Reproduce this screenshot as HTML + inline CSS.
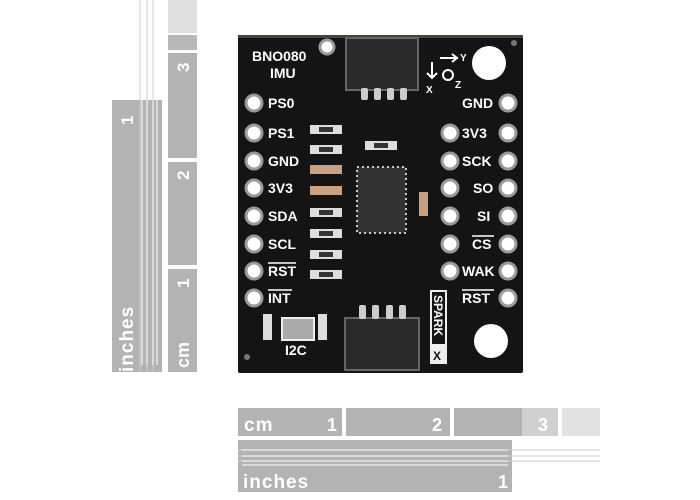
<!DOCTYPE html>
<html><head><style>
html,body{margin:0;padding:0;background:#fff;width:700px;height:500px;overflow:hidden}
svg{display:block}
text{font-family:"Liberation Sans",sans-serif;font-weight:bold}
</style></head><body>
<svg width="700" height="500" viewBox="0 0 700 500" xmlns="http://www.w3.org/2000/svg">
<!-- vertical ruler -->
<g>
<rect x="112" y="100" width="50" height="272" fill="#b3b3b3"/>
<line x1="140" y1="0" x2="140" y2="372" stroke="#ccc" stroke-width="1"/>
<line x1="147" y1="0" x2="147" y2="372" stroke="#ccc" stroke-width="1"/>
<line x1="153" y1="0" x2="153" y2="372" stroke="#ccc" stroke-width="1"/>
<line x1="142" y1="100" x2="142" y2="365" stroke="#fff" stroke-width="1"/>
<line x1="147" y1="100" x2="147" y2="365" stroke="#fff" stroke-width="1"/>
<line x1="153" y1="100" x2="153" y2="365" stroke="#fff" stroke-width="1"/>
<line x1="157" y1="100" x2="157" y2="365" stroke="#fff" stroke-width="1"/>
<text transform="translate(133,372) rotate(-90)" font-size="19" fill="#fff" letter-spacing="1">inches</text>
<text transform="translate(133,125) rotate(-90)" font-size="17" fill="#fff">1</text>
<rect x="168" y="0" width="29" height="33" fill="#e0e0e0"/>
<rect x="168" y="35" width="29" height="15" fill="#b8b8b8"/>
<rect x="168" y="53" width="29" height="105" fill="#b3b3b3"/>
<rect x="168" y="162" width="29" height="103" fill="#b3b3b3"/>
<rect x="168" y="269" width="29" height="103" fill="#b3b3b3"/>
<text transform="translate(189,72) rotate(-90)" font-size="17" fill="#fff">3</text>
<text transform="translate(189,180) rotate(-90)" font-size="17" fill="#fff">2</text>
<text transform="translate(189,288) rotate(-90)" font-size="17" fill="#fff">1</text>
<text transform="translate(189,368) rotate(-90)" font-size="18" fill="#fff">cm</text>
</g>
<!-- horizontal ruler -->
<g>
<rect x="238" y="408" width="104" height="28" fill="#b3b3b3"/>
<rect x="346" y="408" width="104" height="28" fill="#b3b3b3"/>
<rect x="454" y="408" width="68" height="28" fill="#b3b3b3"/>
<rect x="522" y="408" width="36" height="28" fill="#d0d0d0"/>
<rect x="562" y="408" width="38" height="28" fill="#e2e2e2"/>
<text x="244" y="431" font-size="19" fill="#fff" letter-spacing="1">cm</text>
<text x="327" y="431" font-size="18" fill="#fff">1</text>
<text x="432" y="431" font-size="18" fill="#fff">2</text>
<text x="538" y="431" font-size="18" fill="#fff">3</text>
<rect x="238" y="440" width="274" height="52" fill="#b3b3b3"/>
<line x1="238" y1="450" x2="600" y2="450" stroke="#ccc"/>
<line x1="238" y1="456" x2="600" y2="456" stroke="#ccc"/>
<line x1="238" y1="461" x2="600" y2="461" stroke="#ccc"/>
<line x1="242" y1="450" x2="508" y2="450" stroke="#fff"/>
<line x1="242" y1="456" x2="508" y2="456" stroke="#fff"/>
<line x1="242" y1="461" x2="508" y2="461" stroke="#fff"/>
<line x1="242" y1="465" x2="508" y2="465" stroke="#fff"/>
<text x="243" y="488" font-size="19" fill="#fff" letter-spacing="1">inches</text>
<text x="498" y="488" font-size="18" fill="#fff">1</text>
</g>
<!-- board -->
<rect x="238" y="35" width="285" height="338" fill="#141414" rx="2"/>
<rect x="238" y="35" width="285" height="3" fill="#4a4535"/>
<circle cx="489" cy="63" r="17" fill="#fff"/>
<circle cx="491" cy="341" r="17" fill="#fff"/>
<circle cx="514" cy="43" r="3" fill="#777"/>
<circle cx="247" cy="357" r="3" fill="#777"/>
<!-- connectors -->
<rect x="346" y="38" width="72" height="52" fill="#2a2a2a" stroke="#666" stroke-width="2"/>
<g fill="#ccc"><rect x="361" y="88" width="7" height="12" rx="2"/><rect x="374" y="88" width="7" height="12" rx="2"/><rect x="387" y="88" width="7" height="12" rx="2"/><rect x="400" y="88" width="7" height="12" rx="2"/></g>
<rect x="345" y="318" width="74" height="52" fill="#2a2a2a" stroke="#666" stroke-width="2"/>
<g fill="#ccc"><rect x="359" y="305" width="7" height="14" rx="2"/><rect x="372" y="305" width="7" height="14" rx="2"/><rect x="386" y="305" width="7" height="14" rx="2"/><rect x="399" y="305" width="7" height="14" rx="2"/></g>
<!-- IC -->
<rect x="357" y="167" width="49" height="66" fill="#333" stroke="#ccc" stroke-width="2" stroke-dasharray="2 3"/>
<!-- resistors -->
<g fill="#ddd">
<rect x="310" y="125" width="32" height="9"/><rect x="310" y="145" width="32" height="9"/><rect x="310" y="165" width="32" height="9" fill="#c9a080"/><rect x="310" y="186" width="32" height="9" fill="#c9a080"/><rect x="310" y="208" width="32" height="9"/><rect x="310" y="229" width="32" height="9"/><rect x="310" y="250" width="32" height="9"/><rect x="310" y="270" width="32" height="9"/>
<rect x="365" y="141" width="32" height="9"/>
<rect x="419" y="192" width="9" height="24" fill="#c9a080"/>
<rect x="263" y="314" width="9" height="26"/><rect x="318" y="314" width="9" height="26"/>
<rect x="282" y="318" width="32" height="22" fill="#aaa" stroke="#eee" stroke-width="2"/>
</g>
<g fill="#333"><rect x="319" y="127" width="14" height="5"/><rect x="319" y="147" width="14" height="5"/><rect x="319" y="210" width="14" height="5"/><rect x="319" y="231" width="14" height="5"/><rect x="319" y="252" width="14" height="5"/><rect x="319" y="272" width="14" height="5"/><rect x="374" y="143" width="14" height="5"/></g>
<!-- pins -->
<g fill="#fff" stroke="#999" stroke-width="3">
<circle cx="254" cy="103" r="8"/><circle cx="254" cy="133" r="8"/><circle cx="254" cy="161" r="8"/><circle cx="254" cy="188" r="8"/><circle cx="254" cy="216" r="8"/><circle cx="254" cy="244" r="8"/><circle cx="254" cy="271" r="8"/><circle cx="254" cy="298" r="8"/>
<circle cx="508" cy="103" r="8"/><circle cx="508" cy="133" r="8"/><circle cx="508" cy="161" r="8"/><circle cx="508" cy="188" r="8"/><circle cx="508" cy="216" r="8"/><circle cx="508" cy="244" r="8"/><circle cx="508" cy="271" r="8"/><circle cx="508" cy="298" r="8"/>
<circle cx="450" cy="133" r="8"/><circle cx="450" cy="161" r="8"/><circle cx="450" cy="188" r="8"/><circle cx="450" cy="216" r="8"/><circle cx="450" cy="244" r="8"/><circle cx="450" cy="271" r="8"/>
<circle cx="327" cy="47" r="7"/>
</g>
<!-- labels -->
<g font-size="14" fill="#fff">
<text x="252" y="61">BNO080</text><text x="270" y="78">IMU</text>
<text x="268" y="108">PS0</text><text x="268" y="138">PS1</text><text x="268" y="166">GND</text><text x="268" y="193">3V3</text><text x="268" y="221">SDA</text><text x="268" y="249">SCL</text><text x="268" y="276">RST</text><text x="268" y="303">INT</text>
<text x="462" y="108">GND</text><text x="462" y="138">3V3</text><text x="462" y="166">SCK</text><text x="473" y="193">SO</text><text x="477" y="221">SI</text><text x="472" y="249">CS</text><text x="462" y="276">WAK</text><text x="462" y="303">RST</text>
<text x="285" y="355">I2C</text>
</g>
<g stroke="#fff" stroke-width="1.5"><line x1="268" y1="263" x2="296" y2="263"/><line x1="268" y1="290" x2="292" y2="290"/><line x1="472" y1="236" x2="494" y2="236"/><line x1="462" y1="290" x2="494" y2="290"/></g>
<rect x="430" y="290" width="17" height="74" fill="#eee"/>
<rect x="432" y="292" width="13" height="52" fill="#141414"/>
<text transform="translate(434,295) rotate(90)" font-size="12" fill="#fff">SPARK</text>
<text x="433" y="360" font-size="12" fill="#141414">X</text>
<g fill="none" stroke="#fff" stroke-width="2"><circle cx="448" cy="75" r="5"/><path d="M440 58h18M452 54l5 4-5 4M432 62v16M427 73l5 5 5-5"/></g>
<text x="426" y="93" font-size="10" fill="#fff">X</text><text x="455" y="88" font-size="10" fill="#fff">Z</text><text x="460" y="61" font-size="10" fill="#fff">Y</text>
</svg>
</body></html>
